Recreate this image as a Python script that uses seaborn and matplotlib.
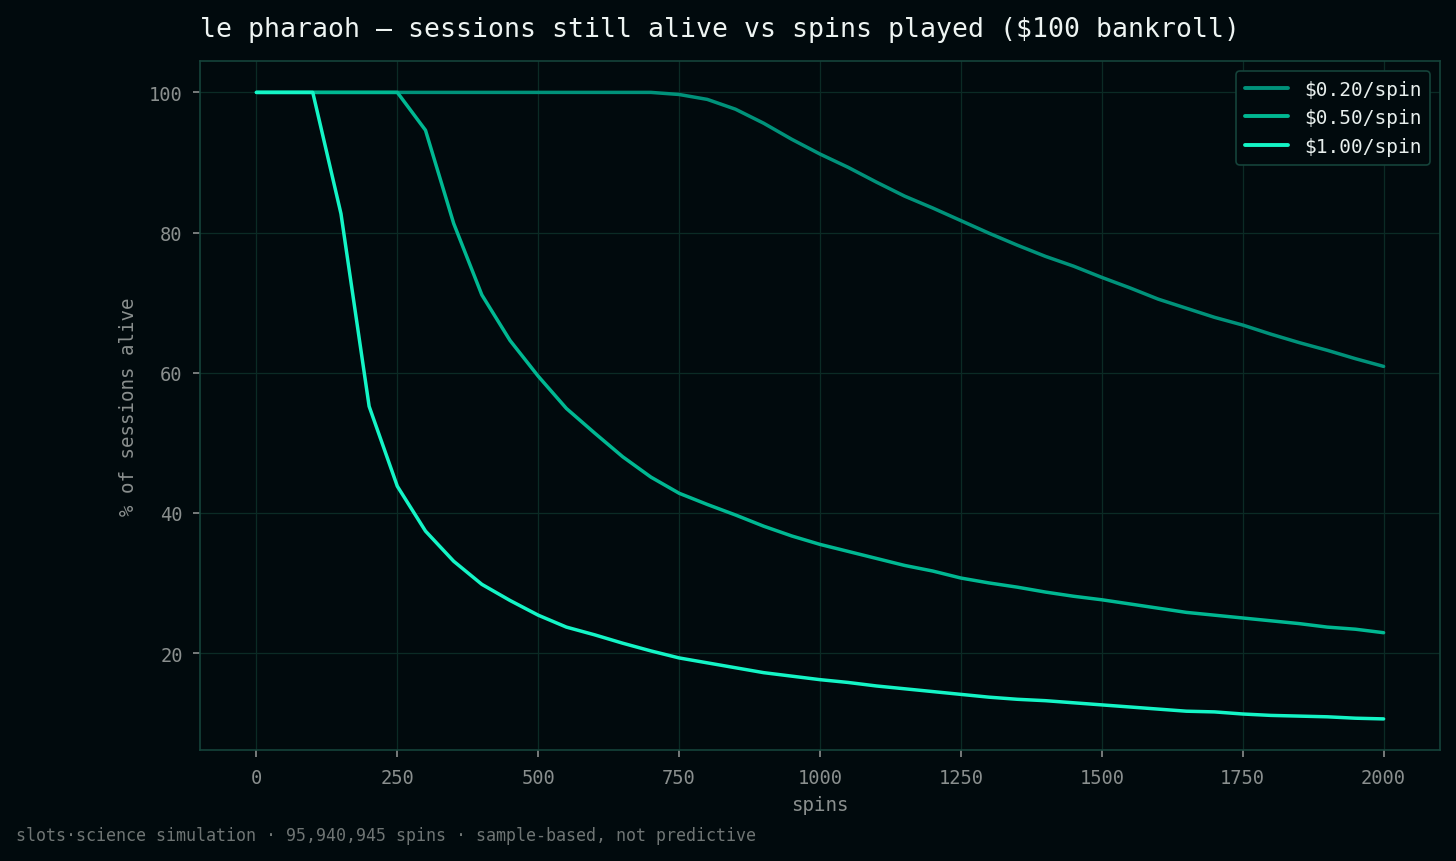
import numpy as np
import pandas as pd
import seaborn as sns
from matplotlib import pyplot as plt

# spins checkpoints, every 50 spins
spins = list(range(0, 2001, 50))

alive_020 = [100, 100, 100, 100, 100, 100, 100, 100, 100, 100,
             100, 100, 100, 100, 100, 99.7, 99.0, 97.6, 95.6, 93.3,
             91.2, 89.3, 87.2, 85.2, 83.5, 81.7, 79.9, 78.2, 76.6, 75.2,
             73.6, 72.1, 70.5, 69.2, 67.9, 66.8, 65.5, 64.3, 63.2, 62.0,
             60.9]
alive_050 = [100, 100, 100, 100, 100, 100, 94.6, 81.3, 71.1, 64.6,
             59.5, 54.9, 51.4, 48.0, 45.1, 42.8, 41.2, 39.7, 38.1, 36.7,
             35.5, 34.5, 33.5, 32.5, 31.7, 30.7, 30.0, 29.4, 28.7, 28.1,
             27.6, 27.0, 26.4, 25.8, 25.4, 25.0, 24.6, 24.2, 23.7, 23.4,
             22.9]
alive_100 = [100, 100, 100, 82.7, 55.2, 43.8, 37.4, 33.1, 29.8, 27.5,
             25.4, 23.7, 22.6, 21.4, 20.3, 19.3, 18.6, 17.9, 17.2, 16.7,
             16.2, 15.8, 15.3, 14.9, 14.5, 14.1, 13.7, 13.4, 13.2, 12.9,
             12.6, 12.3, 12.0, 11.7, 11.6, 11.3, 11.1, 11.0, 10.9, 10.7,
             10.6]

bets = ['$0.20/spin', '$0.50/spin', '$1.00/spin']
colors = ['#00927a', '#00b892', '#14f5c6']

df = pd.concat([
    pd.DataFrame({'spins': spins, 'alive': vals, 'bet': b})
    for b, vals in zip(bets, [alive_020, alive_050, alive_100])
])

BG = '#010a0d'
GRID = '#0b2b25'
EDGE = '#15433a'
TXT = '#8a8f8e'

sns.set_theme(style='darkgrid')
plt.rcParams['font.family'] = ['DejaVu Sans Mono', 'DejaVu Sans']

fig, ax = plt.subplots(figsize=(14.56, 8.62), dpi=100)
fig.patch.set_facecolor(BG)
ax.set_facecolor(BG)
fig.subplots_adjust(left=0.1374, right=0.989, top=0.928, bottom=0.1285)

sns.lineplot(data=df, x='spins', y='alive', hue='bet', hue_order=bets,
             palette=colors, linewidth=2.5, ax=ax)

ax.grid(True, color=GRID, linewidth=0.9)
for s in ax.spines.values():
    s.set_visible(True)
    s.set_color(EDGE)
    s.set_linewidth(1.2)

ax.tick_params(colors=TXT, labelsize=13.5, length=5, width=1.2, pad=7.5,
               bottom=True, left=True)
ax.set_xticks([0, 250, 500, 750, 1000, 1250, 1500, 1750, 2000])
ax.set_yticks([20, 40, 60, 80, 100])
ax.set_xlabel('spins', color=TXT, fontsize=13.8, labelpad=6)
ax.set_ylabel('% of sessions alive', color=TXT, fontsize=13.8, labelpad=8)
ax.set_title('le pharaoh — sessions still alive vs spins played ($100 bankroll)',
             loc='left', color='#eef4f2', fontsize=19.1, pad=18)

leg = ax.legend(loc='upper right', fontsize=14, facecolor=BG, edgecolor=EDGE,
                framealpha=1, handlelength=2.25, borderpad=0.45,
                labelspacing=0.5, borderaxespad=0.5)
leg.get_frame().set_linewidth(1.2)
for t in leg.get_texts():
    t.set_color('#e8efed')
for ln in leg.get_lines():
    ln.set_linewidth(2.8)

fig.text(0.011, 0.03, 'slots·science simulation · 95,940,945 spins · sample-based, not predictive',
         color='#6f7574', fontsize=12, ha='left', va='center')

plt.savefig('out.png', dpi=100, facecolor=BG)
